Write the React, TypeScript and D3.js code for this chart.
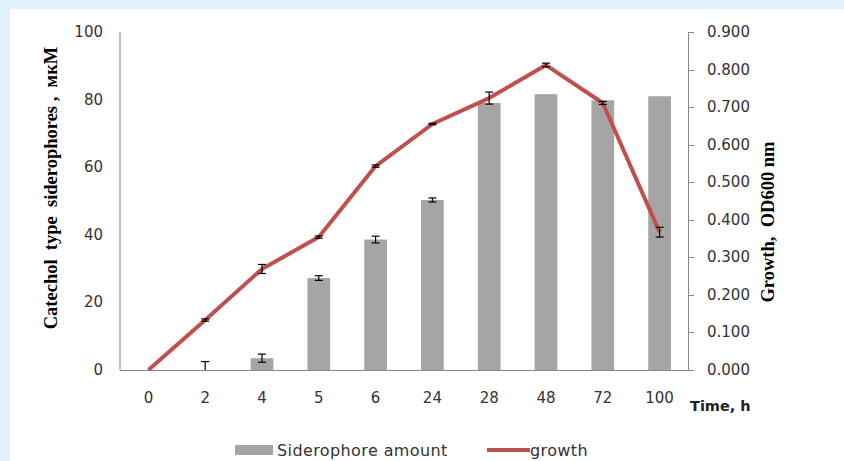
import React, { useEffect, useRef } from 'react';
import * as d3 from 'd3';

const times = ['0', '2', '4', '5', '6', '24', '28', '48', '72', '100'];
const siderophore = [0, 0, 3.5, 27.2, 38.6, 50.3, 79, 81.6, 79.8, 81];
const siderophoreErr = [0, 2.5, 1.2, 0.7, 1.0, 0.6, 0, 0, 0, 0];
const growth = [0, 0.133, 0.269, 0.354, 0.543, 0.655, 0.724, 0.812, 0.711, 0.367];
const growthErr = [0, 0.003, 0.012, 0.003, 0.003, 0.002, 0.016, 0.005, 0.004, 0.013];
const leftTicks = [0, 20, 40, 60, 80, 100];
const rightTicks = [0, 0.1, 0.2, 0.3, 0.4, 0.5, 0.6, 0.7, 0.8, 0.9];

const App = () => {
    const ref = useRef(null);

    useEffect(() => {
        const svg = d3.select(ref.current);
        svg.selectAll('*').remove();

        const W = 844, H = 461;
        const left = 120, right = 688, top = 32, bottom = 370;
        const sansFont = '"DejaVu Sans", sans-serif';
        const serifFont = '"Liberation Serif", serif';

        svg.append('rect').attr('width', W).attr('height', H).attr('fill', '#e1f1fb');
        svg.append('rect').attr('x', 10).attr('y', 9).attr('width', W - 10).attr('height', H - 9).attr('fill', '#fff');

        const x = d3.scaleBand().domain(times).range([left, right]);
        const yL = d3.scaleLinear().domain([0, 100]).range([bottom, top]);
        const yR = d3.scaleLinear().domain([0, 0.9]).range([bottom, top]);
        const bw = x.bandwidth() * 0.4;
        const cx = (t) => x(t) + x.bandwidth() / 2;

        // bars
        svg.append('g').selectAll('rect')
            .data(times)
            .enter().append('rect')
            .attr('x', (t) => cx(t) - bw / 2)
            .attr('y', (t, i) => yL(siderophore[i]))
            .attr('width', bw)
            .attr('height', (t, i) => bottom - yL(siderophore[i]))
            .attr('fill', '#a5a5a5');

        // bar error bars
        const errG = svg.append('g').attr('stroke', '#000').attr('stroke-width', 1.2).attr('fill', 'none');
        times.forEach((t, i) => {
            if (!siderophoreErr[i]) return;
            const y1 = yL(siderophore[i] + siderophoreErr[i]);
            const y0 = Math.min(bottom, yL(siderophore[i] - siderophoreErr[i]));
            errG.append('line').attr('x1', cx(t)).attr('x2', cx(t)).attr('y1', y1).attr('y2', y0);
            errG.append('line').attr('x1', cx(t) - 4).attr('x2', cx(t) + 4).attr('y1', y1).attr('y2', y1);
            if (y0 < bottom) errG.append('line').attr('x1', cx(t) - 4).attr('x2', cx(t) + 4).attr('y1', y0).attr('y2', y0);
        });

        // axes lines
        const axisColor = '#878787';
        svg.append('line').attr('x1', left).attr('x2', left).attr('y1', top).attr('y2', bottom).attr('stroke', axisColor);
        svg.append('line').attr('x1', left).attr('x2', right).attr('y1', bottom + 0.5).attr('y2', bottom + 0.5).attr('stroke', axisColor);
        svg.append('line').attr('x1', right + 0.5).attr('x2', right + 0.5).attr('y1', top).attr('y2', bottom).attr('stroke', axisColor);
        rightTicks.forEach((v) => {
            svg.append('line').attr('x1', right).attr('x2', right + 6)
                .attr('y1', Math.round(yR(v)) + 0.5).attr('y2', Math.round(yR(v)) + 0.5).attr('stroke', axisColor);
        });

        // growth line
        svg.append('path')
            .datum(growth)
            .attr('fill', 'none')
            .attr('stroke', '#c0504d')
            .attr('stroke-width', 4)
            .attr('stroke-linejoin', 'round')
            .attr('d', d3.line().x((d, i) => cx(times[i])).y((d) => yR(d)));

        // growth error bars
        times.forEach((t, i) => {
            if (!growthErr[i]) return;
            const y1 = yR(growth[i] + growthErr[i]);
            const y0 = yR(growth[i] - growthErr[i]);
            errG.append('line').attr('x1', cx(t)).attr('x2', cx(t)).attr('y1', y1).attr('y2', y0);
            errG.append('line').attr('x1', cx(t) - 4).attr('x2', cx(t) + 4).attr('y1', y1).attr('y2', y1);
            errG.append('line').attr('x1', cx(t) - 4).attr('x2', cx(t) + 4).attr('y1', y0).attr('y2', y0);
        });
        errG.raise();

        // tick labels
        svg.append('g').selectAll('text')
            .data(leftTicks)
            .enter().append('text')
            .attr('x', 103).attr('y', (d) => yL(d) + 5)
            .attr('text-anchor', 'end')
            .attr('font-family', sansFont).attr('font-size', 15).attr('fill', '#333')
            .text((d) => d);

        svg.append('g').selectAll('text')
            .data(rightTicks)
            .enter().append('text')
            .attr('x', 707).attr('y', (d) => yR(d) + 5)
            .attr('font-family', sansFont).attr('font-size', 15).attr('fill', '#333')
            .text((d) => d3.format('.3f')(d));

        svg.append('g').selectAll('text')
            .data(times)
            .enter().append('text')
            .attr('x', (t) => cx(t)).attr('y', 403)
            .attr('text-anchor', 'middle')
            .attr('font-family', sansFont).attr('font-size', 15).attr('fill', '#333')
            .text((t) => t);

        // axis titles
        svg.append('text')
            .attr('transform', 'translate(57,188) rotate(-90)')
            .attr('text-anchor', 'middle')
            .attr('font-family', serifFont).attr('font-weight', 'bold').attr('font-size', 18.5)
            .attr('xml:space', 'preserve')
            .text('Catechol  type  siderophores ,  мкМ');

        svg.append('text')
            .attr('transform', 'translate(774,222) rotate(-90)')
            .attr('text-anchor', 'middle')
            .attr('font-family', serifFont).attr('font-weight', 'bold').attr('font-size', 18.5)
            .attr('xml:space', 'preserve')
            .text('Growth,  OD600 nm');

        svg.append('text')
            .attr('x', 690).attr('y', 411)
            .attr('font-family', sansFont).attr('font-weight', 'bold').attr('font-size', 14.5).attr('fill', '#222')
            .text('Time, h');

        // legend
        svg.append('rect').attr('x', 235).attr('y', 445).attr('width', 38).attr('height', 10).attr('fill', '#a5a5a5');
        svg.append('text').attr('x', 277).attr('y', 456)
            .attr('font-family', sansFont).attr('font-size', 16).attr('letter-spacing', 0.4).attr('fill', '#333')
            .text('Siderophore amount');
        svg.append('line').attr('x1', 487).attr('x2', 530).attr('y1', 450).attr('y2', 450)
            .attr('stroke', '#c0504d').attr('stroke-width', 4);
        svg.append('text').attr('x', 530).attr('y', 456)
            .attr('font-family', sansFont).attr('font-size', 16).attr('letter-spacing', 0.4).attr('fill', '#333')
            .text('growth');
    }, []);

    return (
        <div style={{ position: 'fixed', left: 0, top: 0 }}>
            <svg ref={ref} width={844} height={461} style={{ display: 'block' }} />
        </div>
    );
};

export default App;
